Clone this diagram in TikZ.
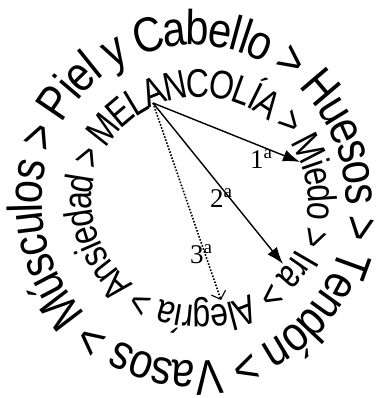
\documentclass[tikz,border=0pt]{standalone}
\usepackage{fontspec}
\setmainfont{Liberation Serif}
\newfontfamily\outerfnt[FakeStretch=0.85]{Liberation Sans}
\newfontfamily\innerfnt[FakeStretch=0.80]{Liberation Sans}
\usetikzlibrary{decorations.text,arrows.meta}
\tikzset{
  ringtext/.style={decorate},
  solidarrow/.style={line width=1.4pt,-{Latex[length=17pt,width=12pt]}},
  dotarrow/.style={line width=1.6pt,dash pattern=on 1.6pt off 1.6pt,-{Straight Barb[length=7pt,width=15pt,line width=1.1pt]}},
  ordlabel/.style={inner sep=0pt,anchor=base west,font=\fontsize{27pt}{27pt}\selectfont}
}
\begin{document}
\begin{tikzpicture}[x=1pt,y=1pt]
\useasboundingbox (0,0) rectangle (380,-398);
% outer ring
\path[ringtext,decoration={text along path,
  text={|\fontsize{49pt}{49pt}\outerfnt|Músculos > Piel y Cabello > Huesos > Tendón > Vasos >},
  text align={fit to path},raise=-17.5pt}]
  (194,-203) ++(224:169.5pt and 175.5pt) arc[start angle=224,end angle=-132,x radius=169.5pt,y radius=175.5pt];
% inner ring
\path[ringtext,decoration={text along path,
  text={|\fontsize{40pt}{40pt}\innerfnt|Ansiedad > MELANCOLÍA > Miedo > Ira > Alegría >},
  text align={fit to path},raise=-14.3pt}]
  (200,-201.5) ++(231.5:122.3pt and 118.8pt) arc[start angle=231.5,end angle=-124.2,x radius=122.3pt,y radius=118.8pt];
% arrows
\coordinate (src) at (153,-103);
\coordinate (t1) at (300,-162);
\coordinate (t2) at (283,-264);
\coordinate (t3) at (221,-300);
\draw[solidarrow] (src) -- (t1);
\draw[solidarrow] (src) -- (t2);
\draw[dotarrow] (src) -- (t3);
\node[ordlabel] (l1) at (250,-168) {1\textsuperscript{a}};
\node[ordlabel] (l2) at (210,-207) {2\textsuperscript{a}};
\node[ordlabel] (l3) at (190,-263) {3\textsuperscript{a}};
\end{tikzpicture}
\end{document}
